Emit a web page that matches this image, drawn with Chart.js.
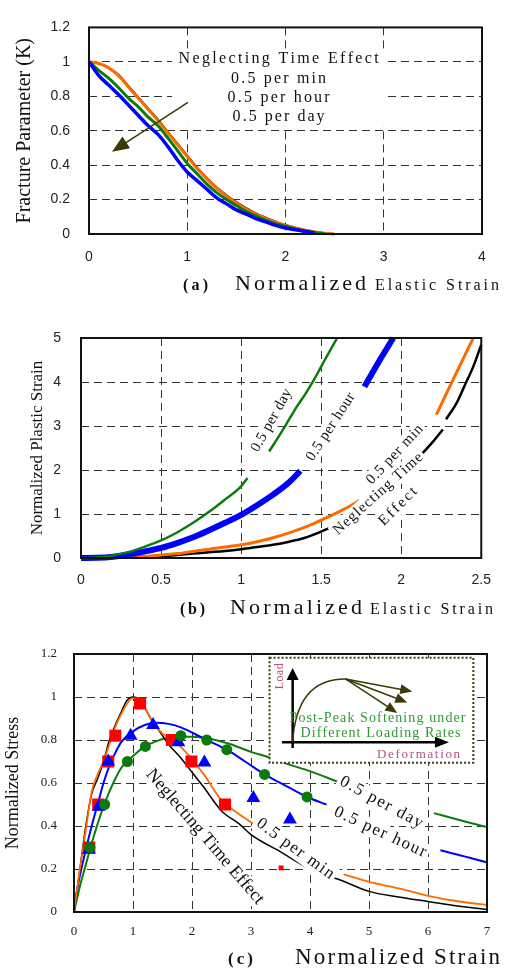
<!DOCTYPE html>
<html>
<head>
<meta charset="utf-8">
<script src="https://cdn.jsdelivr.net/npm/chart.js@4.4.1/dist/chart.umd.min.js"></script>
<style>
  body { margin: 0; background: #fff; }
  .panel { position: absolute; left: 0; }
</style>
</head>
<body>
<canvas id="chart-a" class="panel" width="505" height="300" style="top:0"></canvas>
<canvas id="chart-b" class="panel" width="505" height="320" style="top:300px"></canvas>
<canvas id="chart-c" class="panel" width="505" height="349" style="top:620px"></canvas>
<script>
// (a) fracture parameter vs normalized elastic strain
const aStrain = [0, 0.1, 0.2, 0.3, 0.4, 0.5, 0.6, 0.7, 0.8, 0.9, 1.0, 1.1, 1.2, 1.3, 1.4, 1.5, 1.6, 1.7, 1.8, 1.9, 2.0, 2.1, 2.2, 2.3, 2.4, 2.5, 2.6, 2.7, 2.8, 2.9, 3.0];
const aNeglect = [1, 0.99, 0.965, 0.925, 0.86, 0.795, 0.73, 0.665, 0.595, 0.525, 0.455, 0.385, 0.325, 0.27, 0.225, 0.185, 0.15, 0.12, 0.095, 0.072, 0.052, 0.036, 0.023, 0.012, 0.004, 0, 0, 0, 0, 0, 0];
const aPerMin = [1, 0.99, 0.965, 0.92, 0.855, 0.79, 0.725, 0.66, 0.59, 0.52, 0.45, 0.38, 0.32, 0.265, 0.22, 0.18, 0.145, 0.115, 0.09, 0.07, 0.05, 0.035, 0.022, 0.012, 0.004, 0, null, null, null, null, null];
const aPerHour = [1, 0.95, 0.905, 0.85, 0.79, 0.74, 0.68, 0.63, 0.56, 0.485, 0.41, 0.35, 0.29, 0.24, 0.2, 0.165, 0.13, 0.105, 0.08, 0.06, 0.045, 0.03, 0.018, 0.008, 0.002, null, null, null, null, null, null];
const aPerDay = [1, 0.92, 0.865, 0.81, 0.75, 0.69, 0.63, 0.58, 0.51, 0.43, 0.36, 0.31, 0.26, 0.21, 0.175, 0.14, 0.115, 0.09, 0.07, 0.05, 0.035, 0.025, 0.015, 0.006, null, null, null, null, null, null, null];
const aNotes = ["Neglecting Time Effect", "0.5 per min", "0.5 per hour", "0.5 per day"];

// (b) normalized plastic strain vs normalized elastic strain
const bDayX = [0, 0.1, 0.2, 0.3, 0.4, 0.5, 0.6, 0.7, 0.8, 0.9, 1.0, 1.04, 1.1, 1.175, 1.25, 1.3, 1.35, 1.4, 1.45, 1.5, 1.55, 1.6];
const bDayY = [0, 0.01, 0.06, 0.14, 0.26, 0.4, 0.58, 0.8, 1.05, 1.33, 1.63, 1.82, null, 2.42, 2.85, 3.15, 3.45, 3.72, 4.02, 4.35, 4.68, 5.0];
const bHourX = [0, 0.1, 0.2, 0.3, 0.4, 0.5, 0.6, 0.7, 0.8, 0.9, 1.0, 1.1, 1.2, 1.3, 1.37, 1.5, 1.77, 1.85, 1.95];
const bHourY = [0, 0.005, 0.03, 0.08, 0.15, 0.23, 0.34, 0.47, 0.63, 0.8, 0.98, 1.2, 1.44, 1.72, 1.98, null, 3.89, 4.4, 5.0];
const bMinX = [0, 0.2, 0.4, 0.5, 0.6, 0.7, 0.8, 0.9, 1.0, 1.1, 1.2, 1.3, 1.4, 1.5, 1.6, 1.7, 1.74, 2.0, 2.22, 2.33, 2.45];
const bMinY = [0, 0.01, 0.04, 0.07, 0.1, 0.15, 0.2, 0.25, 0.3, 0.37, 0.46, 0.57, 0.7, 0.86, 1.03, 1.22, 1.31, null, 3.26, 4.1, 5.0];
const bNeglectX = [0, 0.3, 0.5, 0.6, 0.7, 0.8, 0.9, 1.0, 1.1, 1.2, 1.3, 1.4, 1.5, 1.6, 1.8, 1.95, 2.0, 2.1, 2.2, 2.26, 2.27, 2.28, 2.35, 2.4, 2.45, 2.5];
const bNeglectY = [0, 0.01, 0.04, 0.07, 0.1, 0.13, 0.16, 0.2, 0.25, 0.3, 0.37, 0.46, 0.6, 0.76, null, 1.67, 1.85, 2.25, 2.65, 2.92, null, 3.15, 3.55, 3.95, 4.35, 4.85];

// (c) normalized stress vs normalized strain
const cNeglectX = [0, 0.05, 0.1, 0.2, 0.3, 0.4, 0.5, 0.6, 0.7, 0.8, 0.9, 1.0, 1.1, 1.2, 1.3, 1.4, 1.5, 1.6, 1.8, 2.0, 2.2, 2.5, 2.8, 3.0, 3.5, 4.0, 4.5, 5.0, 5.5, 6.0, 6.5, 7.0, 7.18];
const cNeglectY = [0, 0.1, 0.2, 0.4, 0.55, 0.62, 0.7, 0.8, 0.87, 0.93, 0.985, 1.0, 0.99, 0.95, 0.9, 0.86, 0.82, 0.78, 0.72, 0.65, 0.58, 0.47, 0.41, 0.36, 0.28, 0.2, 0.15, 0.096, 0.07, 0.049, 0.028, 0.012, 0.008];
const cMinX = [0, 0.05, 0.1, 0.2, 0.3, 0.4, 0.5, 0.6, 0.7, 0.8, 0.9, 1.0, 1.1, 1.2, 1.3, 1.4, 1.5, 1.66, 1.8, 2.0, 2.2, 2.5, 2.8, 3.07, 3.5, 4.57, 5.0, 5.5, 6.0, 6.5, 7.0, 7.18];
const cMinY = [0, 0.1, 0.2, 0.38, 0.56, 0.64, 0.7, 0.78, 0.86, 0.92, 0.97, 0.995, 0.99, 0.95, 0.9, 0.86, 0.83, 0.8, 0.77, 0.71, 0.64, 0.52, 0.455, 0.405, null, 0.175, 0.14, 0.11, 0.075, 0.05, 0.033, 0.03];
const cHourX = [0, 0.05, 0.1, 0.2, 0.3, 0.4, 0.5, 0.6, 0.7, 0.8, 1.0, 1.2, 1.4, 1.6, 1.8, 2.0, 2.25, 2.59, 2.9, 3.23, 3.6, 3.95, 4.28, 5.0, 6.21, 6.6, 7.0, 7.18];
const cHourY = [0, 0.1, 0.17, 0.29, 0.4, 0.5, 0.6, 0.68, 0.74, 0.79, 0.84, 0.87, 0.88, 0.875, 0.86, 0.835, 0.8, 0.755, 0.7, 0.64, 0.585, 0.535, 0.5, null, 0.287, 0.26, 0.23, 0.21];
const cDayX = [0, 0.05, 0.1, 0.2, 0.3, 0.4, 0.5, 0.6, 0.7, 0.8, 0.9, 1.0, 1.2, 1.4, 1.6, 1.8, 2.0, 2.2, 2.6, 3.0, 3.3, 3.6, 4.0, 4.52, 5.0, 6.1, 6.5, 7.0, 7.18];
const cDayY = [0, 0.06, 0.12, 0.22, 0.32, 0.41, 0.49, 0.56, 0.62, 0.67, 0.7, 0.725, 0.77, 0.795, 0.81, 0.815, 0.815, 0.81, 0.785, 0.745, 0.72, 0.69, 0.655, 0.6, null, 0.46, 0.43, 0.395, 0.385];
const cSquareX = [0.26, 0.41, 0.58, 0.70, 1.12, 1.66, 1.99, 2.56, 3.51];
const cSquareY = [0.30, 0.50, 0.70, 0.82, 0.97, 0.80, 0.70, 0.50, 0.205];
const cTriangleX = [0.25, 0.42, 0.58, 0.96, 1.34, 1.77, 2.21, 3.04, 3.66];
const cTriangleY = [0.29, 0.49, 0.70, 0.82, 0.87, 0.79, 0.695, 0.53, 0.43];
const cCircleX = [0.27, 0.52, 0.905, 1.21, 1.81, 2.25, 2.59, 3.23, 3.95];
const cCircleY = [0.30, 0.50, 0.70, 0.77, 0.82, 0.80, 0.755, 0.64, 0.535];

const SERIF = '"Liberation Serif", "Times New Roman", serif';
const SANS = '"Liberation Sans", Arial, sans-serif';
const BLUE = "#0000ff", GREEN = "#0b7d0b", ORANGE = "#ff6a00", BLACK = "#000", RED = "#ff0000";
const OLIVE = "#3a3a08", MAUVE = "#b5507f";

Chart.defaults.font.family = SANS;
Chart.defaults.color = "#222";

function pts(xs, ys) {
	return xs.map((x, i) => ({ x: x, y: ys[i] }));
}

function line(label, xs, ys, color, width) {
	return {
		label: label,
		data: pts(xs, ys),
		borderColor: color,
		borderWidth: width,
		pointRadius: 0,
		fill: false,
		spanGaps: false,
		cubicInterpolationMode: "monotone",
		clip: { left: 2, top: 3, right: 14, bottom: 3 },
	};
}

function marks(label, xs, ys, style, color, radius) {
	return {
		label: label,
		data: pts(xs, ys),
		showLine: false,
		pointStyle: style,
		pointRadius: radius,
		backgroundColor: color,
		borderColor: color,
		borderWidth: 0,
	};
}

// draws text stretched to a given width by spacing the letters
function spaced(ctx, text, cx, y, width, font, color, baseline) {
	ctx.save();
	ctx.font = font;
	ctx.fillStyle = color;
	ctx.textAlign = "left";
	ctx.textBaseline = baseline || "middle";
	const chars = Array.from(text);
	const ws = chars.map((c) => ctx.measureText(c).width);
	const natural = ws.reduce((a, b) => a + b, 0);
	const gap = chars.length > 1 ? (width - natural) / (chars.length - 1) : 0;
	let x = cx - width / 2;
	chars.forEach((c, i) => {
		ctx.fillText(c, x, y);
		x += ws[i] + gap;
	});
	ctx.restore();
}

function rotated(ctx, text, x, y, deg, width, size, color, bg) {
	ctx.save();
	ctx.translate(x, y);
	ctx.rotate((deg * Math.PI) / 180);
	if (bg) {
		ctx.fillStyle = "#fff";
		ctx.fillRect(-width / 2 - 3, -size * 0.55, width + 6, size * 1.1);
	}
	spaced(ctx, text, 0, 0, width, size + "px " + SERIF, color || "#111");
	ctx.restore();
}

function arrow(ctx, x1, y1, x2, y2, color, lw, len, w) {
	const a = Math.atan2(y2 - y1, x2 - x1);
	ctx.save();
	ctx.strokeStyle = color;
	ctx.fillStyle = color;
	ctx.lineWidth = lw;
	ctx.beginPath();
	ctx.moveTo(x1, y1);
	ctx.lineTo(x2 - len * 0.8 * Math.cos(a), y2 - len * 0.8 * Math.sin(a));
	ctx.stroke();
	ctx.translate(x2, y2);
	ctx.rotate(a);
	ctx.beginPath();
	ctx.moveTo(0, 0);
	ctx.lineTo(-len, w / 2);
	ctx.lineTo(-len, -w / 2);
	ctx.closePath();
	ctx.fill();
	ctx.restore();
}

const frame = {
	id: "frame",
	afterDatasetsDraw(chart) {
		const { ctx, chartArea: a } = chart;
		ctx.save();
		ctx.strokeStyle = "#111";
		ctx.lineWidth = 2;
		ctx.strokeRect(a.left, a.top, a.right - a.left, a.bottom - a.top);
		ctx.restore();
	},
};

const plain = (v) => String(Math.round(v * 100) / 100);

function axes(o) {
	return {
		x: {
			type: "linear",
			min: o.xMin,
			max: o.xMax,
			afterFit: (s) => { s.height = 40; },
			ticks: { stepSize: o.xStep, padding: o.xPad, font: o.tickFont, color: "#222", maxRotation: 0, callback: plain },
			grid: { color: "#333", lineWidth: 1, drawTicks: false },
			border: { display: false, dash: [8, 5] },
		},
		y: {
			type: "linear",
			min: o.yMin,
			max: o.yMax,
			afterFit: (s) => { s.width = o.yWidth; },
			ticks: { stepSize: o.yStep, padding: o.yPad, font: o.tickFont, color: "#222", callback: plain },
			grid: { color: "#333", lineWidth: 1, drawTicks: false },
			border: { display: false, dash: [8, 5] },
			title: {
				display: true,
				text: o.yTitle,
				color: "#111",
				font: { family: SERIF, size: o.yTitleSize },
				padding: { top: o.yTitlePad, bottom: 0 },
			},
		},
	};
}

function baseOptions(padding, scales) {
	return {
		responsive: false,
		animation: false,
		events: [],
		layout: { padding: padding },
		plugins: { legend: { display: false }, tooltip: { enabled: false } },
		scales: scales,
	};
}

// ---------- (a) ----------
const notesA = {
	id: "notesA",
	afterDatasetsDraw(chart) {
		const { ctx } = chart;
		const xs = chart.scales.x, ys = chart.scales.y;
		const X = (v) => xs.getPixelForValue(v), Y = (v) => ys.getPixelForValue(v);
		ctx.save();
		ctx.fillStyle = "#fff";
		ctx.fillRect(X(0.845), Y(1.073), X(3.03) - X(0.845), Y(0.624) - Y(1.073));
		ctx.restore();
		const widths = [200, 95, 102, 92];
		const rows = [1.017, 0.904, 0.792, 0.68];
		aNotes.forEach((t, i) => spaced(ctx, t, X(1.93), Y(rows[i]), widths[i], "16px " + SERIF, "#111"));
		arrow(ctx, X(1.007), Y(0.764), X(0.234), Y(0.478), OLIVE, 1.5, 17, 14);
	},
	afterDraw(chart) {
		const { ctx } = chart;
		spaced(ctx, "(a)", 195.5, 290, 25, "bold 16px " + SERIF, "#111", "alphabetic");
		spaced(ctx, "Normalized", 300.5, 290, 131, "22px " + SERIF, "#111", "alphabetic");
		spaced(ctx, "Elastic Strain", 437, 290, 124, "16px " + SERIF, "#111", "alphabetic");
	},
};

new Chart(document.getElementById("chart-a"), {
	type: "line",
	data: {
		datasets: [
			line("0.5 per day", aStrain, aPerDay, BLUE, 3.5),
			line("0.5 per hour", aStrain, aPerHour, GREEN, 3),
			line("0.5 per min", aStrain, aPerMin, ORANGE, 3),
			line("Neglecting Time Effect", aStrain, aNeglect, BLACK, 2),
		],
	},
	options: baseOptions(
		{ top: 20, right: 23, bottom: 26, left: 0 },
		axes({
			xMin: 0, xMax: 4, xStep: 1, xPad: 15,
			yMin: 0, yMax: 1.2, yStep: 0.2, yPad: 19, yWidth: 89,
			tickFont: { family: SANS, size: 14 },
			yTitle: "Fracture Parameter (K)", yTitleSize: 20, yTitlePad: 13,
		})
	),
	plugins: [frame, notesA],
});

// ---------- (b) ----------
const notesB = {
	id: "notesB",
	afterDatasetsDraw(chart) {
		const { ctx } = chart;
		const X = (v) => chart.scales.x.getPixelForValue(v), Y = (v) => chart.scales.y.getPixelForValue(v);
		rotated(ctx, "0.5 per day", X(1.19), Y(3.13), -61, 70, 15, "#111", true);
		rotated(ctx, "0.5 per hour", X(1.56), Y(2.98), -57, 78, 15, "#111", true);
		rotated(ctx, "0.5 per min", X(1.96), Y(2.35), -47, 76, 15, "#111", true);
		rotated(ctx, "Neglecting Time", X(1.855), Y(1.46), -42, 115, 15, "#111", true);
		rotated(ctx, "Effect", X(1.98), Y(1.17), -45, 48, 15, "#111", true);
	},
	afterDraw(chart) {
		const { ctx } = chart;
		spaced(ctx, "(b)", 192.5, 314, 25, "bold 16px " + SERIF, "#111", "alphabetic");
		spaced(ctx, "Normalized", 296, 314, 132, "22px " + SERIF, "#111", "alphabetic");
		spaced(ctx, "Elastic Strain", 431.5, 314, 123, "16px " + SERIF, "#111", "alphabetic");
	},
};

new Chart(document.getElementById("chart-b"), {
	type: "line",
	data: {
		datasets: [
			line("0.5 per day", bDayX, bDayY, GREEN, 2.5),
			line("0.5 per hour", bHourX, bHourY, BLUE, 6),
			line("0.5 per min", bMinX, bMinY, ORANGE, 3),
			line("Neglecting Time Effect", bNeglectX, bNeglectY, BLACK, 2.5),
		],
	},
	options: baseOptions(
		{ top: 38, right: 23, bottom: 22, left: 0 },
		axes({
			xMin: 0, xMax: 2.5, xStep: 0.5, xPad: 14,
			yMin: 0, yMax: 5, yStep: 1, yPad: 20, yWidth: 81,
			tickFont: { family: SANS, size: 14 },
			yTitle: "Normalized Plastic Strain", yTitleSize: 17, yTitlePad: 27,
		})
	),
	plugins: [frame, notesB],
});

// ---------- (c) ----------
const notesC = {
	id: "notesC",
	afterDatasetsDraw(chart) {
		const { ctx } = chart;
		const X = (v) => chart.scales.x.getPixelForValue(v), Y = (v) => chart.scales.y.getPixelForValue(v);
		rotated(ctx, "Neglecting Time Effect", X(2.22), Y(0.35), 49.5, 172, 18, "#111", true);
		rotated(ctx, "0.5 per min", X(3.75), Y(0.294), 36, 92, 17, "#111", true);
		rotated(ctx, "0.5 per hour", X(5.19), Y(0.372), 25, 100, 17, "#111", true);
		rotated(ctx, "0.5 per day", X(5.21), Y(0.51), 28.6, 92, 17, "#111", true);

		// inset sketch: post-peak softening
		const l = X(3.315), t = Y(1.182), r = X(6.769), b = Y(0.694);
		ctx.save();
		ctx.fillStyle = "#fff";
		ctx.fillRect(l, t, r - l, b - t);
		ctx.strokeStyle = OLIVE;
		ctx.lineWidth = 2;
		ctx.setLineDash([2, 2]);
		ctx.strokeRect(l, t, r - l, b - t);
		ctx.restore();
		arrow(ctx, X(3.706), Y(0.763), X(3.706), Y(1.135), "#000", 2.5, 12, 12);
		arrow(ctx, X(3.526), Y(0.789), X(6.355), Y(0.789), "#000", 2.5, 14, 11);
		ctx.save();
		ctx.strokeStyle = OLIVE;
		ctx.lineWidth = 1.5;
		ctx.beginPath();
		ctx.moveTo(X(3.706), Y(0.789));
		ctx.quadraticCurveTo(X(3.769), Y(1.085), X(4.601), Y(1.084));
		ctx.stroke();
		ctx.restore();
		arrow(ctx, X(4.601), Y(1.084), X(5.733), Y(1.026), OLIVE, 1.5, 12, 10);
		arrow(ctx, X(4.601), Y(1.084), X(5.649), Y(0.975), OLIVE, 1.5, 12, 10);
		arrow(ctx, X(4.601), Y(1.084), X(5.479), Y(0.926), OLIVE, 1.5, 12, 10);
		rotated(ctx, "Load", X(3.497), Y(1.096), -90, 26, 12, MAUVE, false);
		spaced(ctx, "Post-Peak Softening under", X(5.144), Y(0.902), 176, "14px " + SERIF, "#2e9a2e");
		spaced(ctx, "Different Loading Rates", X(5.195), Y(0.833), 160, "14px " + SERIF, "#2e9a2e");
		spaced(ctx, "Deformation", X(5.84), Y(0.73), 83, "13px " + SERIF, MAUVE);
	},
	afterDraw(chart) {
		const { ctx } = chart;
		spaced(ctx, "(c)", 240.5, 344, 25, "bold 17px " + SERIF, "#111", "alphabetic");
		spaced(ctx, "Normalized Strain", 397.5, 344, 205, "23px " + SERIF, "#111", "alphabetic");
	},
};

new Chart(document.getElementById("chart-c"), {
	type: "line",
	data: {
		datasets: [
			marks("0.5 per day data", cCircleX, cCircleY, "circle", "#0a7a0a", 5.5),
			marks("0.5 per hour data", cTriangleX, cTriangleY, "triangle", BLUE, 8),
			marks("0.5 per min data", cSquareX, cSquareY, "rect", RED, [8.5, 8.5, 8.5, 8.5, 8.5, 8.5, 8.5, 8.5, 3.5]),
			line("0.5 per min", cMinX, cMinY, ORANGE, 1.8),
			line("Neglecting Time Effect", cNeglectX, cNeglectY, BLACK, 1.5),
			line("0.5 per hour", cHourX, cHourY, BLUE, 2),
			line("0.5 per day", cDayX, cDayY, GREEN, 2),
		],
	},
	options: baseOptions(
		{ top: 34, right: 18, bottom: 17, left: 0 },
		axes({
			xMin: 0, xMax: 7, xStep: 1, xPad: 12,
			yMin: 0, yMax: 1.2, yStep: 0.2, yPad: 17, yWidth: 74,
			tickFont: { family: SERIF, size: 13 },
			yTitle: "Normalized Stress", yTitleSize: 18, yTitlePad: 2,
		})
	),
	plugins: [frame, notesC],
});
</script>
</body>
</html>
